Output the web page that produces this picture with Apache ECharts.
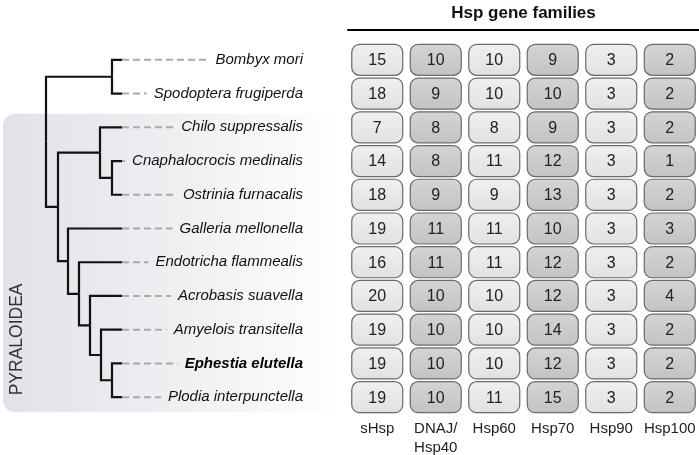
<!DOCTYPE html>
<html>
<head>
<meta charset="utf-8">
<script src="https://cdn.jsdelivr.net/npm/echarts@6/dist/echarts.min.js"></script>
<style>
html, body { margin: 0; padding: 0; background: #fff; }
#main { width: 699px; height: 455px; }
</style>
</head>
<body>
<div id="main"></div>
<script>
var species = ['Bombyx mori', 'Spodoptera frugiperda', 'Chilo suppressalis', 'Cnaphalocrocis medinalis',
  'Ostrinia furnacalis', 'Galleria mellonella', 'Endotricha flammealis', 'Acrobasis suavella',
  'Amyelois transitella', 'Ephestia elutella', 'Plodia interpunctella'];
var families = ['sHsp', 'DNAJ/\nHsp40', 'Hsp60', 'Hsp70', 'Hsp90', 'Hsp100'];

var sHsp   = [15, 18, 7, 14, 18, 19, 16, 20, 19, 19, 19];
var dnaj   = [10, 9, 8, 8, 9, 11, 11, 10, 10, 10, 10];
var hsp60  = [10, 10, 8, 11, 9, 11, 11, 10, 10, 10, 11];
var hsp70  = [9, 10, 9, 12, 13, 10, 12, 12, 14, 12, 15];
var hsp90  = [3, 3, 3, 3, 3, 3, 3, 3, 3, 3, 3];
var hsp100 = [2, 2, 2, 1, 2, 3, 2, 4, 2, 2, 2];

// tree: d = node depth, c = children (numbers are leaf indexes into species)
var tree = {d: 46, c: [
  {d: 112, c: [0, 1]},
  {d: 58, c: [
    {d: 100, c: [2, {d: 112, c: [3, 4]}]},
    {d: 68, c: [5, {d: 79, c: [6, {d: 90, c: [7, {d: 101, c: [8, {d: 112, c: [9, 10]}]}]}]}]}
  ]}
]};
var tipDepth = 122;
var highlight = 'Ephestia elutella';

var FONT = 'Liberation Sans, Arial, sans-serif';
var FS = 15;

function yOf(n) {
  return typeof n === 'number' ? n : (yOf(n.c[0]) + yOf(n.c[n.c.length - 1])) / 2;
}
function dOf(n) {
  return typeof n === 'number' ? tipDepth : n.d;
}
var branches = [];
function walk(n) {
  if (typeof n === 'number') return;
  var y = yOf(n);
  n.c.forEach(function (ch) {
    branches.push({coords: [[n.d, y], [n.d, yOf(ch)], [dOf(ch), yOf(ch)]]});
    walk(ch);
  });
}
walk(tree);

// dashed guides from branch tips to the labels
var labelRight = 303;
var ctx = document.createElement('canvas').getContext('2d');
var guides = species.map(function (s, i) {
  ctx.font = (s === highlight ? 'italic bold ' : 'italic ') + FS + 'px ' + FONT;
  var start = labelRight - ctx.measureText(s).width;
  return {coords: [[tipDepth, i], [start - 7, i]]};
});

var cols = [sHsp, dnaj, hsp60, hsp70, hsp90, hsp100];
var cells = [];
cols.forEach(function (arr, c) {
  arr.forEach(function (v, r) { cells.push([c, r, v]); });
});

var lightFill = new echarts.graphic.LinearGradient(0, 0, 0, 1, [
  {offset: 0, color: '#f0f0f0'}, {offset: 1, color: '#e1e1e1'}]);
var darkFill = new echarts.graphic.LinearGradient(0, 0, 0, 1, [
  {offset: 0, color: '#d4d4d4'}, {offset: 1, color: '#c3c3c3'}]);

var chart = echarts.init(document.getElementById('main'));
var option = {
  backgroundColor: '#fff',
  animation: false,
  textStyle: {fontFamily: FONT},
  grid: [
    {left: 0, width: 340, top: 43, bottom: 41, outerBoundsMode: 'none', containLabel: false},
    {left: 348, right: 0, top: 43, bottom: 41, outerBoundsMode: 'none', containLabel: false}
  ],
  xAxis: [
    {gridIndex: 0, type: 'value', min: 0, max: 340, show: false},
    {gridIndex: 1, type: 'category', data: families, position: 'bottom',
      axisLine: {show: false}, axisTick: {show: false},
      axisLabel: {interval: 0, margin: 5, fontSize: FS, lineHeight: 19, color: '#222', fontFamily: FONT}},
    {gridIndex: 1, type: 'category', data: families, position: 'top', offset: 13,
      name: 'Hsp gene families', nameLocation: 'middle', nameGap: 8,
      nameTextStyle: {fontSize: 17, fontWeight: 'bold', color: '#111', fontFamily: FONT},
      axisLine: {show: true, lineStyle: {color: '#000', width: 2}},
      axisTick: {show: false}, axisLabel: {show: false}}
  ],
  yAxis: [
    {gridIndex: 0, type: 'value', min: -0.5, max: 10.5, inverse: true, show: false},
    {gridIndex: 1, type: 'category', data: species, inverse: true,
      axisLine: {show: false}, axisTick: {show: false},
      axisLabel: {
        interval: 0, margin: 45, fontSize: FS, color: '#111',
        formatter: function (v) { return v === highlight ? '{b|' + v + '}' : '{i|' + v + '}'; },
        rich: {
          i: {fontSize: FS, fontStyle: 'italic', color: '#111', fontFamily: FONT},
          b: {fontSize: FS, fontStyle: 'italic', fontWeight: 'bold', color: '#000', fontFamily: FONT}
        }
      }}
  ],
  series: [
    {type: 'lines', coordinateSystem: 'cartesian2d', xAxisIndex: 0, yAxisIndex: 0,
      polyline: true, silent: true, z: 3,
      lineStyle: {color: '#aaa', width: 2, type: [7, 4], opacity: 1},
      data: guides},
    {type: 'lines', coordinateSystem: 'cartesian2d', xAxisIndex: 0, yAxisIndex: 0,
      polyline: true, silent: true, z: 4,
      lineStyle: {color: '#111', width: 2.2, opacity: 1, join: 'miter'},
      data: branches},
    {type: 'custom', xAxisIndex: 1, yAxisIndex: 1, data: cells, z: 3,
      renderItem: function (params, api) {
        var p = api.coord([api.value(0), api.value(1)]);
        var s = api.size([1, 1]);
        var w = s[0] - 7.5, h = s[1] - 2.7;
        var dark = api.value(0) % 2 === 1;
        return {type: 'group', children: [
          {type: 'rect', shape: {x: p[0] - w / 2, y: p[1] - h / 2, width: w, height: h, r: 8},
            style: {fill: dark ? darkFill : lightFill, stroke: '#6a6a6a', lineWidth: 1.2}},
          {type: 'text', x: p[0], y: p[1] + 1,
            style: {text: String(api.value(2)), align: 'center', verticalAlign: 'middle',
              font: '16px ' + FONT, fill: '#222'}}
        ]};
      }}
  ]
};
chart.setOption(option);

// shaded clade box for Pyraloidea (rows 2..10)
var boxRowTop = chart.convertToPixel({yAxisIndex: 0}, 2);
var boxRowBot = chart.convertToPixel({yAxisIndex: 0}, 10);
var band = (boxRowBot - boxRowTop) / 8;
var boxTop = boxRowTop - band * 0.4, boxBot = boxRowBot + band * 0.45;
chart.setOption({
  graphic: [
    {type: 'rect', z: -10, silent: true,
      shape: {x: 3, y: boxTop, width: 340, height: boxBot - boxTop, r: [12, 0, 0, 12]},
      style: {fill: new echarts.graphic.LinearGradient(0, 0, 1, 0, [
        {offset: 0, color: '#e1e1e7'}, {offset: 0.6, color: '#f2f2f5'}, {offset: 1, color: '#ffffff'}])}},
    {type: 'text', z: -9, silent: true, x: 17, y: boxBot - 17, rotation: Math.PI / 2,
      style: {text: 'PYRALOIDEA', align: 'left', verticalAlign: 'middle',
        font: '17.5px ' + FONT, fill: '#333'}}
  ]
});
</script>
</body>
</html>
